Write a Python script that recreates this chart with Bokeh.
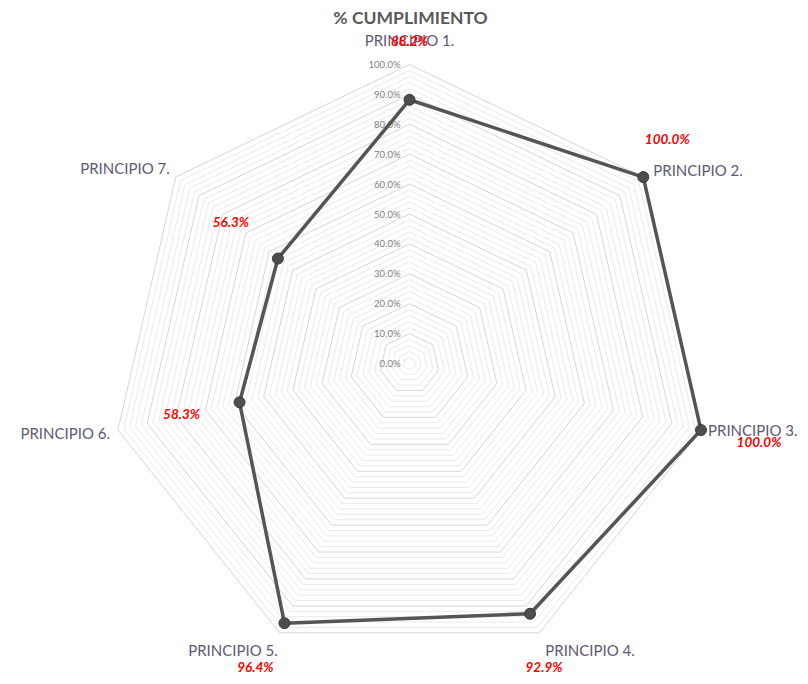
import numpy as np
from bokeh.plotting import figure
from bokeh.models import Range1d
from bokeh.core.properties import value
from bokeh.embed import file_html
from bokeh.resources import INLINE

categories = ["PRINCIPIO 1.", "PRINCIPIO 2.", "PRINCIPIO 3.", "PRINCIPIO 4.",
              "PRINCIPIO 5.", "PRINCIPIO 6.", "PRINCIPIO 7."]
values = [88.2, 100.0, 100.0, 92.9, 96.4, 58.3, 56.3]
tick_values = [0, 10, 20, 30, 40, 50, 60, 70, 80, 90, 100]
tick_labels = ["0.0%", "10.0%", "20.0%", "30.0%", "40.0%", "50.0%",
               "60.0%", "70.0%", "80.0%", "90.0%", "100.0%"]
title = "% CUMPLIMIENTO"

# layout
R = 299.0  # px for 100%
W, H = 800, 676
cx_img, cy_img = 409, 363
n = len(categories)
ang = np.array([2 * np.pi * i / n for i in range(n)])
sx, cy_ = np.sin(ang), np.cos(ang)

p = figure(width=W, height=H, output_backend="svg", toolbar_location=None,
           x_range=Range1d(-cx_img, W - cx_img),
           y_range=Range1d(cy_img - H, cy_img),
           min_border=0, outline_line_color=None)
p.axis.visible = False
p.grid.visible = False
p.background_fill_color = "white"

def poly(frac):
    xs = list(R * frac * sx) + [R * frac * sx[0]]
    ys = list(R * frac * cy_) + [R * frac * cy_[0]]
    return xs, ys

# minor grid
for v in range(2, 101, 2):
    if v % 10 == 0:
        continue
    xs, ys = poly(v / 100)
    p.line(xs, ys, line_color="#eaeaea", line_width=1)
for v in tick_values:
    if v == 0:
        continue
    xs, ys = poly(v / 100)
    p.line(xs, ys, line_color="#d6d6d6", line_width=1)

# tick labels
p.text(x=[-9] * len(tick_values), y=[R * v / 100 for v in tick_values], text=tick_labels,
       text_align="right", text_baseline="middle", text_font_size="9.5px",
       text_color="#7f7f7f", text_font=value("Lato"))

# series
vals = np.array(values) / 100
px = R * vals * sx
py = R * vals * cy_
p.line(list(px) + [px[0]], list(py) + [py[0]], line_color="#555555", line_width=3.5)
p.scatter(px, py, size=11, fill_color="#4d4d4d", line_color="#3a3a3a", line_width=1)

# category labels
lab_dx = [0, 10, 7, 6, -2, -8, -6]
lab_dy = [-16, -7, 0, 8, 8, 3, -9]
lab_align = ["center", "left", "left", "left", "right", "right", "right"]
lab_base = ["bottom", "middle", "middle", "top", "top", "middle", "middle"]
vx = R * sx
vy = R * cy_
for i in range(n):
    p.text(x=[vx[i] + lab_dx[i]], y=[vy[i] - lab_dy[i]], text=[categories[i]],
           text_align=lab_align[i], text_baseline=lab_base[i],
           text_font_size="15px", text_color="#5e5873", text_font=value("Lato"))

# data labels
dl_dx = [0, 24, 58, 14, -29, -58, -47]
dl_dy = [-59, -38, 12, 53, 44, 12, -37]
for i in range(n):
    p.text(x=[px[i] + dl_dx[i]], y=[py[i] - dl_dy[i]], text=["%.1f%%" % values[i]],
           text_align="center", text_baseline="middle", text_font_size="13.5px",
           text_font_style="bold italic", text_color="#ff0000", text_font=value("Lato"))

# title
p.text(x=[1], y=[cy_img - 17], text=[title], text_align="center", text_baseline="middle",
       text_font_size="17.5px", text_font_style="bold", text_color="#595959",
       text_font=value("Lato"))

open("out.html", "w").write(file_html(p, INLINE))
